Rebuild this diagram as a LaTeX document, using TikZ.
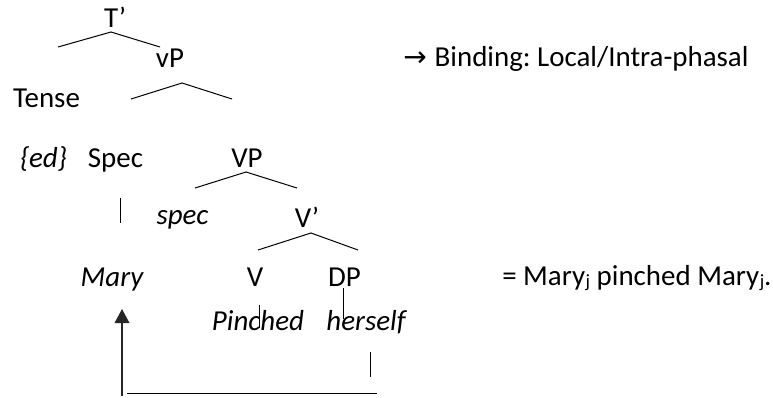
\documentclass[tikz,border=0pt]{standalone}
\usepackage{fontspec}
\setmainfont{Carlito}
\newfontfamily\symfont{DejaVu Sans}
\usetikzlibrary{arrows.meta}
\frenchspacing
\newcommand{\subj}{\kern0.4pt\raisebox{-2.2pt}{\fontsize{14}{14}\selectfont j}}
\tikzset{
  lbl/.style={inner sep=0pt, anchor=base, font=\fontsize{21.7}{26}\selectfont},
  lbll/.style={lbl, anchor=base west},
  ital/.style={lbl, font=\fontsize{21.7}{26}\selectfont\itshape},
  branch/.style={line width=0.75pt, black},
  bind/.style={line width=1pt, black!85},
}
\begin{document}
\begin{tikzpicture}[x=0.75pt,y=-0.75pt]
\useasboundingbox (0,0) rectangle (773,397);
% labels
\node[lbl] (Tbar) at (115,27) {T’};
\node[lbl] (vP) at (170,67) {vP};
\node[lbl] (Tense) at (46.5,107) {Tense};
\node[ital] (ed) at (43.5,167) {\{ed\}};
\node[lbl] (Spec) at (115.5,167) {Spec};
\node[lbl] (VP) at (247,167) {VP};
\node[ital] (spec) at (182.5,224) {spec};
\node[lbl] (Vbar) at (307,227) {V’};
\node[ital] (Mary) at (112,286) {Mary};
\node[lbl] (V) at (255,286) {V};
\node[lbl] (DP) at (344.5,286) {DP};
\node[ital] (Pinched) at (258,330) {Pinched};
\node[ital] (herself) at (366,330) {herself};
\node[lbll] (binding) at (403,66) {{\symfont\fontsize{21}{25}\selectfont →}\hspace{6pt}Binding: Local/Intra-phasal};
\node[lbll] (gloss) at (502,285) {= Mary\subj{} pinched Mary\subj.};
% branch coordinates
\coordinate (tL) at (58,47); \coordinate (tA) at (111,32); \coordinate (tR) at (160,47);
\coordinate (vL) at (131,99); \coordinate (vA) at (182,83); \coordinate (vR) at (232,99);
\coordinate (VL) at (195,188); \coordinate (VA) at (246,172); \coordinate (VR) at (297,188);
\coordinate (bL) at (258,250); \coordinate (bA) at (311,233); \coordinate (bR) at (358,250);
\coordinate (s1) at (120,198); \coordinate (s2) at (120,223);
\coordinate (v1) at (259,305); \coordinate (v2) at (259,328);
\coordinate (d1) at (343,288); \coordinate (d2) at (343,319);
\coordinate (h1) at (370,352); \coordinate (h2) at (370,377);
\coordinate (r1) at (127,393); \coordinate (r2) at (377,393);
\coordinate (a1) at (122,395.5); \coordinate (a2) at (122,309);
% branches
\draw[branch] (tL) -- (tA) -- (tR);
\draw[branch] (vL) -- (vA) -- (vR);
\draw[branch] (VL) -- (VA) -- (VR);
\draw[branch] (bL) -- (bA) -- (bR);
\draw[branch] (s1) -- (s2);
\draw[branch] (v1) -- (v2);
\draw[branch] (d1) -- (d2);
\draw[branch] (h1) -- (h2);
\draw[branch] (r1) -- (r2);
\draw[bind, -{Triangle[width=11pt,length=10.5pt]}] (a1) -- (a2);
\end{tikzpicture}
\end{document}
